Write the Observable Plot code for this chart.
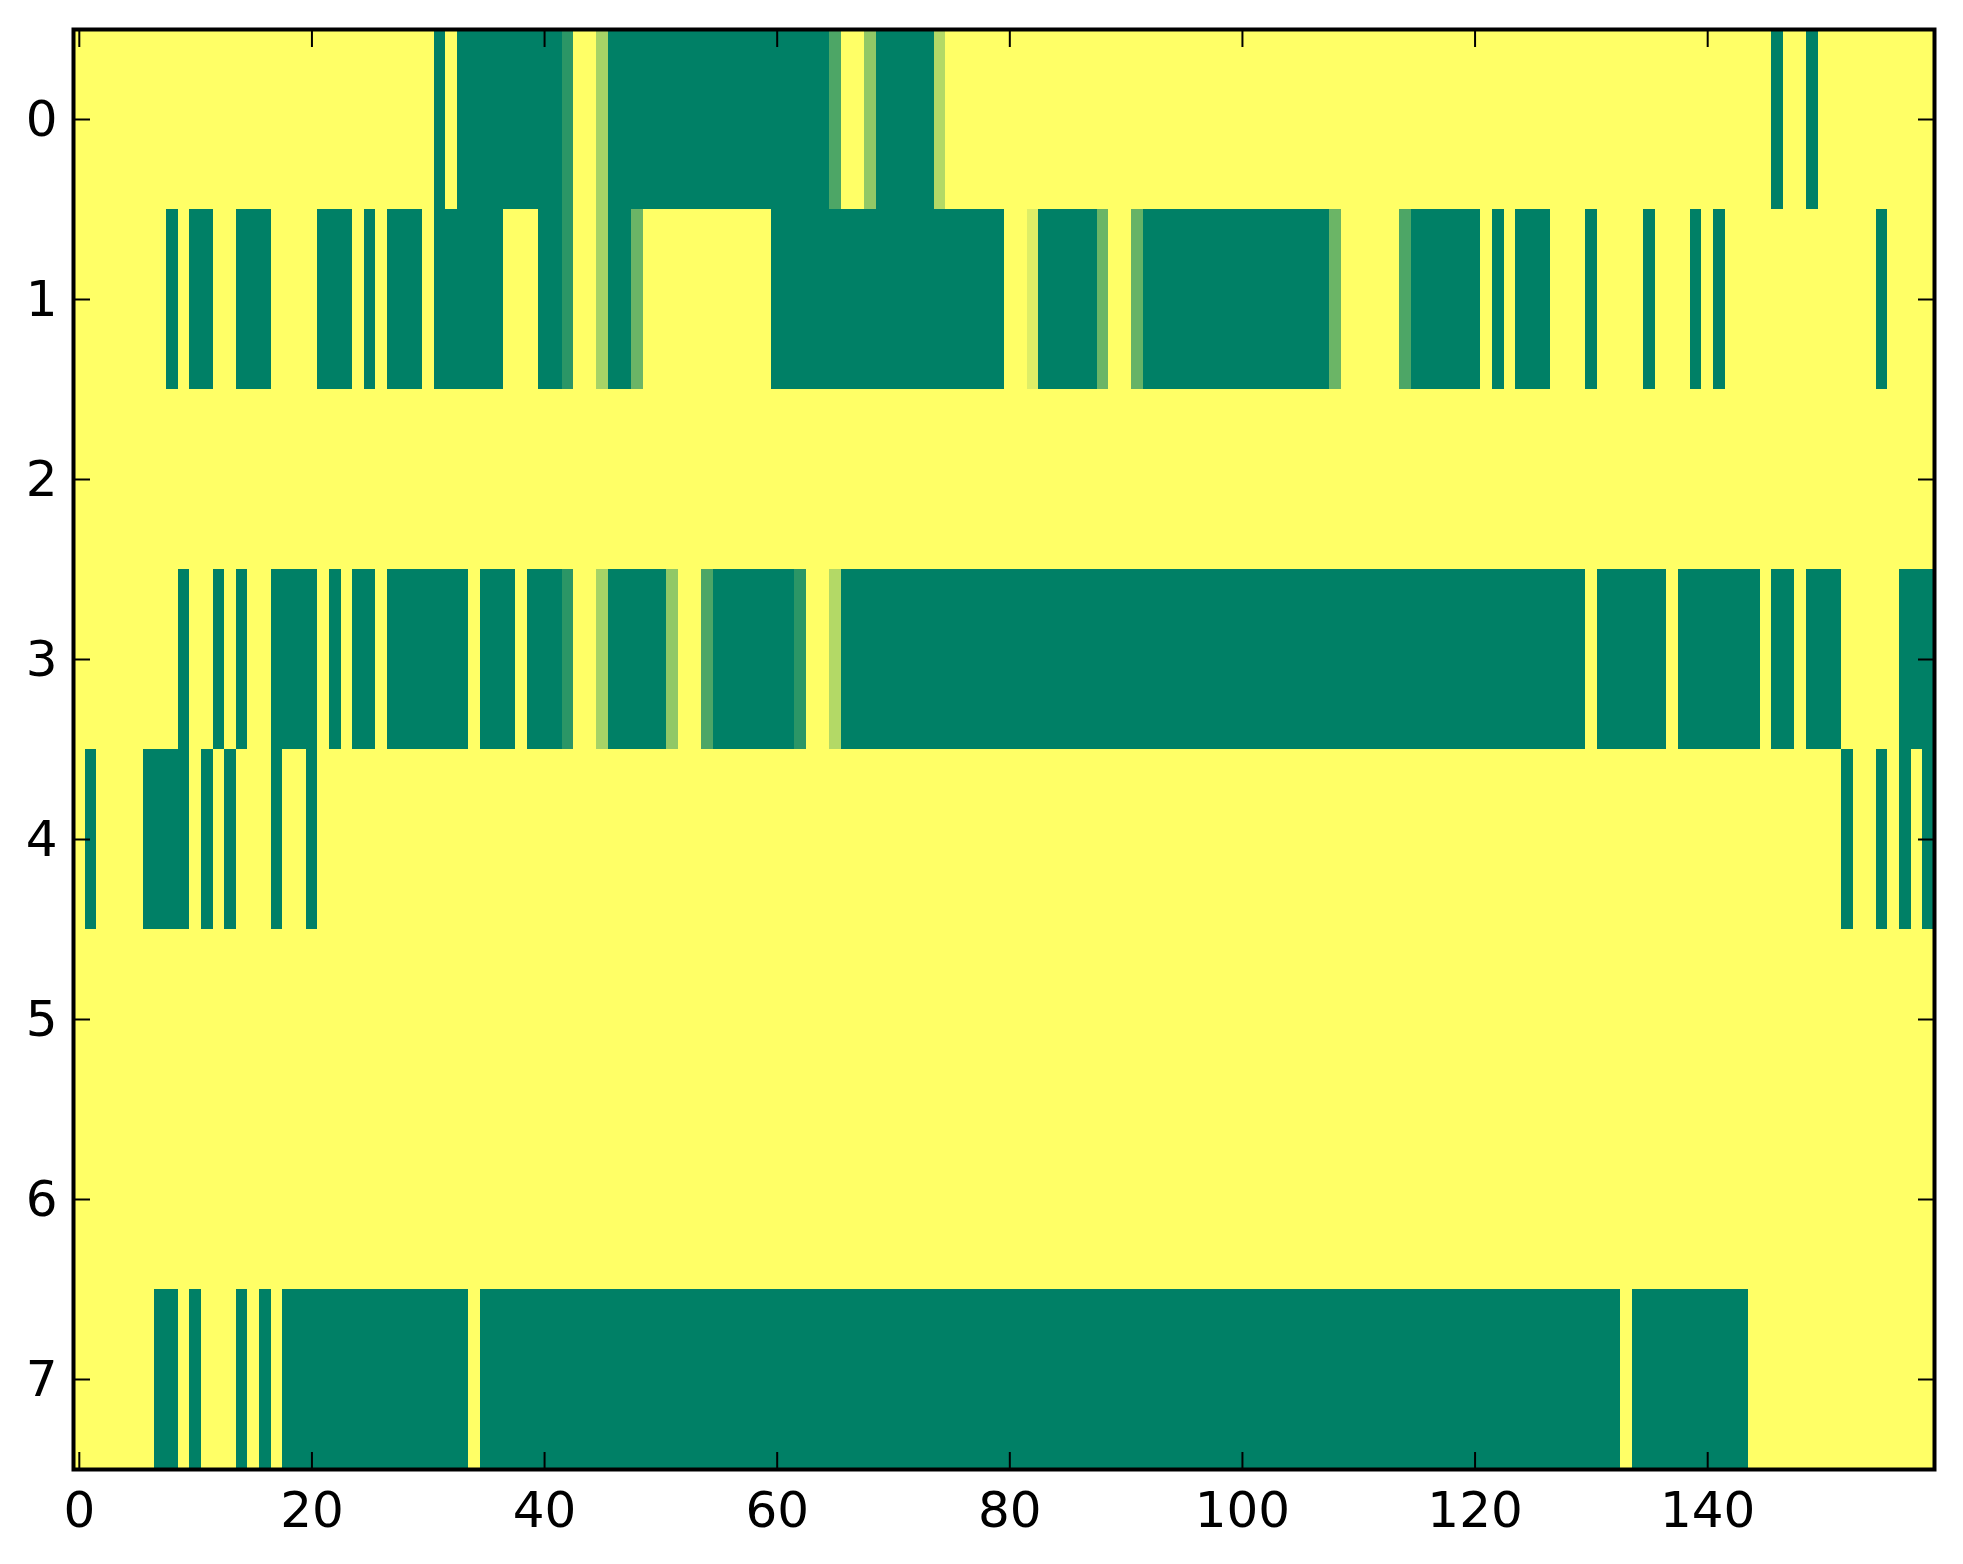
<!DOCTYPE html>
<html>
<head>
<meta charset="utf-8">
<script src="https://cdn.jsdelivr.net/npm/d3@7"></script>
<script src="https://cdn.jsdelivr.net/npm/@observablehq/plot@0.6"></script>
<style>
  html, body { margin: 0; padding: 0; background: #ffffff; }
  #chart { width: 1963px; height: 1564px; }
</style>
</head>
<body>
<div id="chart"></div>
<script>
// ---- data ----
const nCols = 160;
const rowIds = [0, 1, 2, 3, 4, 5, 6, 7];
const xTicks = [0, 20, 40, 60, 80, 100, 120, 140];

// runs of cells with value 1 (inclusive [start, end] column indices)
const row0Full = [[31,31],[33,41],[46,64],[69,73],[146,146],[149,149]];
const row1Full = [[8,8],[10,11],[14,16],[21,23],[25,25],[27,29],[31,36],[40,41],[46,47],[60,79],[83,87],[92,107],[115,120],[122,122],[124,126],[130,130],[135,135],[139,139],[141,141],[155,155]];
const row2Full = [];
const row3Full = [[9,9],[12,12],[14,14],[17,20],[22,22],[24,25],[27,33],[35,37],[39,41],[46,50],[55,61],[66,129],[131,136],[138,144],[146,147],[149,151],[157,159]];
const row4Full = [[1,1],[6,9],[11,11],[13,13],[17,17],[20,20],[152,152],[155,155],[157,157],[159,159]];
const row5Full = [];
const row6Full = [];
const row7Full = [[7,8],[10,10],[14,14],[16,16],[18,33],[35,132],[134,143]];

// cells with intermediate values [row, col, value]
const partialCells = [
  [0,42,0.83],[0,45,0.35],[0,65,0.70],[0,68,0.43],[0,74,0.30],
  [1,42,0.83],[1,45,0.35],[1,48,0.58],[1,82,0.13],[1,88,0.58],[1,91,0.60],[1,108,0.58],[1,114,0.70],
  [3,42,0.83],[3,45,0.35],[3,51,0.43],[3,54,0.70],[3,62,0.83],[3,65,0.30]
];

// ---- build table ----
const rowRuns = [row0Full, row1Full, row2Full, row3Full, row4Full, row5Full, row6Full, row7Full];
const grid = rowIds.map(() => new Array(nCols).fill(0));
rowRuns.forEach((runs, r) => runs.forEach(([a, b]) => { for (let c = a; c <= b; c++) grid[r][c] = 1; }));
partialCells.forEach(([r, c, v]) => { grid[r][c] = v; });
const table = [];
rowIds.forEach(r => { for (let c = 0; c < nCols; c++) table.push({row: r, col: c, value: grid[r][c]}); });

const noLabel = () => "";

const chart = Plot.plot({
  width: 1963,
  height: 1564,
  marginLeft: 73,
  marginRight: 29,
  marginTop: 29,
  marginBottom: 95,
  style: {fontFamily: "'DejaVu Sans', sans-serif", fontSize: "50px", color: "black", background: "white"},
  x: {type: "band", domain: d3.range(nCols), padding: 0, label: null},
  y: {type: "band", domain: rowIds, padding: 0, label: null},
  color: {type: "linear", domain: [0, 1], range: ["#ffff66", "#008066"], interpolate: "rgb"},
  marks: [
    Plot.cell(table, {x: "col", y: "row", fill: "value", inset: 0, shapeRendering: "crispEdges"}),
    Plot.axisX(xTicks, {anchor: "bottom", tickSize: 0, tickPadding: 22, fontSize: 50}),
    Plot.axisX(xTicks, {anchor: "bottom", tickSize: -17, tickFormat: noLabel, strokeWidth: 2}),
    Plot.axisX(xTicks, {anchor: "top", tickSize: -17, tickFormat: noLabel, strokeWidth: 2}),
    Plot.axisY(rowIds, {anchor: "left", tickSize: 0, tickPadding: 16, fontSize: 50}),
    Plot.axisY(rowIds, {anchor: "left", tickSize: -17, tickFormat: noLabel, strokeWidth: 2}),
    Plot.axisY(rowIds, {anchor: "right", tickSize: -17, tickFormat: noLabel, strokeWidth: 2}),
    Plot.frame({stroke: "black", strokeWidth: 4})
  ]
});
document.getElementById("chart").appendChild(chart);
</script>
</body>
</html>
